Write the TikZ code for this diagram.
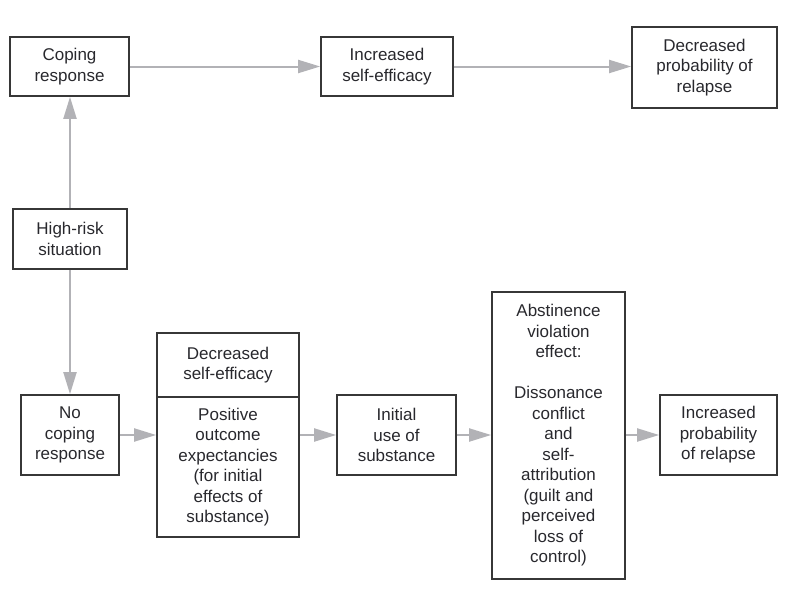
\documentclass[tikz,border=0pt]{standalone}
\usepackage{fontspec}
\setmainfont{Liberation Sans}
\usetikzlibrary{arrows.meta}
\definecolor{boxline}{RGB}{55,55,55}
\definecolor{arrowgray}{RGB}{178,178,182}
\definecolor{txt}{RGB}{40,40,45}
\begin{document}
\begin{tikzpicture}[x=1pt,y=-1pt,
  box/.style={draw=boxline, line width=1.7pt, rectangle, inner sep=0pt, align=center,
    text=txt, font=\fontsize{17}{20.5}\selectfont},
  conn/.style={draw=arrowgray, line width=2pt, -{Triangle[length=22pt,width=13pt]}}]
\useasboundingbox (0,0) rectangle (793,589);
\node[box, minimum width=119pt, minimum height=59pt] (coping) at (69.5,66.5) {Coping\\response};
\node[box, minimum width=132pt, minimum height=59pt] (incse) at (387,66.5) {Increased\\self-efficacy};
\node[box, minimum width=145pt, minimum height=81pt] (decprob) at (704.5,67.5) {Decreased\\probability of\\relapse};
\node[box, minimum width=114pt, minimum height=60pt] (highrisk) at (70,239) {High-risk\\situation};
\node[box, minimum width=98pt, minimum height=80pt] (nocope) at (70,435) {No\\coping\\response};
\node[box, minimum width=142pt, minimum height=64pt] (decse) at (228,365) {Decreased\\self-efficacy};
\node[box, minimum width=142pt, minimum height=140pt] (posout) at (228,467) {Positive\\outcome\\expectancies\\(for initial\\effects of\\substance)};
\node[box, minimum width=119pt, minimum height=80pt] (initial) at (396.5,435) {Initial\\use of\\substance};
\node[box, minimum width=133pt, minimum height=287pt] (abst) at (558.5,435.5) {Abstinence\\violation\\effect:\\[20.5pt]Dissonance\\conflict\\and\\self-\\attribution\\(guilt and\\perceived\\loss of\\control)};
\node[box, minimum width=117pt, minimum height=80pt] (incprob) at (718.5,435) {Increased\\probability\\of relapse};
\draw[conn] (coping.east) -- (incse.west);
\draw[conn] (incse.east) -- (incse.east -| decprob.west);
\draw[conn] (highrisk.north) -- (highrisk.north |- coping.south);
\draw[conn] (highrisk.south) -- (highrisk.south |- nocope.north);
\draw[conn] (nocope.east) -- (nocope.east -| posout.west);
\draw[conn] (initial.west -| posout.east) -- (initial.west);
\draw[conn] (initial.east) -- (initial.east -| abst.west);
\draw[conn] (incprob.west -| abst.east) -- (incprob.west);
\end{tikzpicture}
\end{document}
